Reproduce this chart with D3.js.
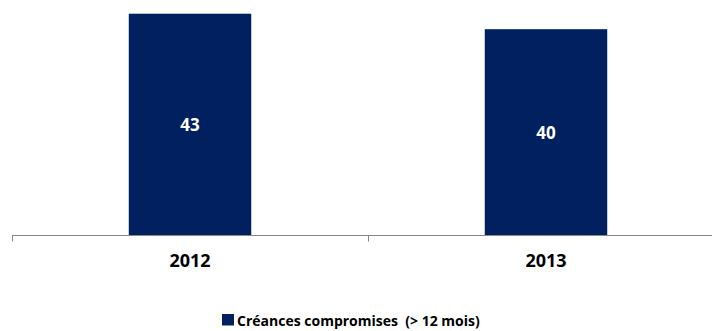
<!DOCTYPE html>
<html><head><meta charset="utf-8">
<script src="https://cdn.jsdelivr.net/npm/d3@7"></script>
<style>body{margin:0;background:#fff}svg{display:block}</style>
</head><body>
<svg id="c" width="712" height="331"></svg>
<script>
const categories = ["2012", "2013"];
const values = [43, 40];
const seriesName = "Créances compromises  (> 12 mois)";

const svg = d3.select("#c");
const font = "'Open Sans', sans-serif";
const base = 235.5, plotTop = 0;
const y = d3.scaleLinear().domain([0, 45.66]).range([base, plotTop]);
const x = d3.scaleBand().domain(categories).range([12, 724]).paddingInner(0).paddingOuter(0);
const bw = x.bandwidth() * 0.344;
const color = "#002060";

svg.selectAll("rect.bar").data(values).enter().append("rect")
  .attr("x", (d, i) => x(categories[i]) + x.bandwidth() / 2 - bw / 2)
  .attr("width", bw)
  .attr("y", d => y(d))
  .attr("height", d => base - y(d))
  .attr("fill", color);

svg.selectAll("text.val").data(values).enter().append("text")
  .attr("x", (d, i) => x(categories[i]) + x.bandwidth() / 2)
  .attr("y", d => (y(d) + base) / 2 + 6.2)
  .attr("text-anchor", "middle")
  .attr("fill", "#fff").attr("font-family", font).attr("font-weight", "bold").attr("font-size", 17)
  .text(d => d);

const g = svg.append("g").attr("transform", `translate(0,${base})`);
g.append("line").attr("x1", 12).attr("x2", 724).attr("y1", 0).attr("y2", 0).attr("stroke", "#888").attr("stroke-width", 1);
const bounds = categories.map(c => x(c)).concat([x(categories[categories.length-1]) + x.bandwidth()]);
g.selectAll("line.tk").data(bounds).enter().append("line")
  .attr("x1", d => Math.round(d) + 0.5).attr("x2", d => Math.round(d) + 0.5)
  .attr("y1", 0).attr("y2", 6).attr("stroke", "#888");

svg.selectAll("text.cat").data(categories).enter().append("text")
  .attr("x", c => x(c) + x.bandwidth() / 2)
  .attr("y", 266.7)
  .attr("text-anchor", "middle")
  .attr("fill", "#000").attr("font-family", font).attr("font-weight", "bold").attr("font-size", 18)
  .text(c => c);

const lg = svg.append("g");
lg.append("rect").attr("x", 222).attr("y", 314).attr("width", 12).attr("height", 11.5).attr("fill", color);
lg.append("text").attr("x", 237).attr("y", 325.5)
  .attr("fill", "#000").attr("font-family", font).attr("font-weight", "bold").attr("font-size", 14)
  .style("white-space", "pre")
  .text(seriesName);
</script>
</body></html>
